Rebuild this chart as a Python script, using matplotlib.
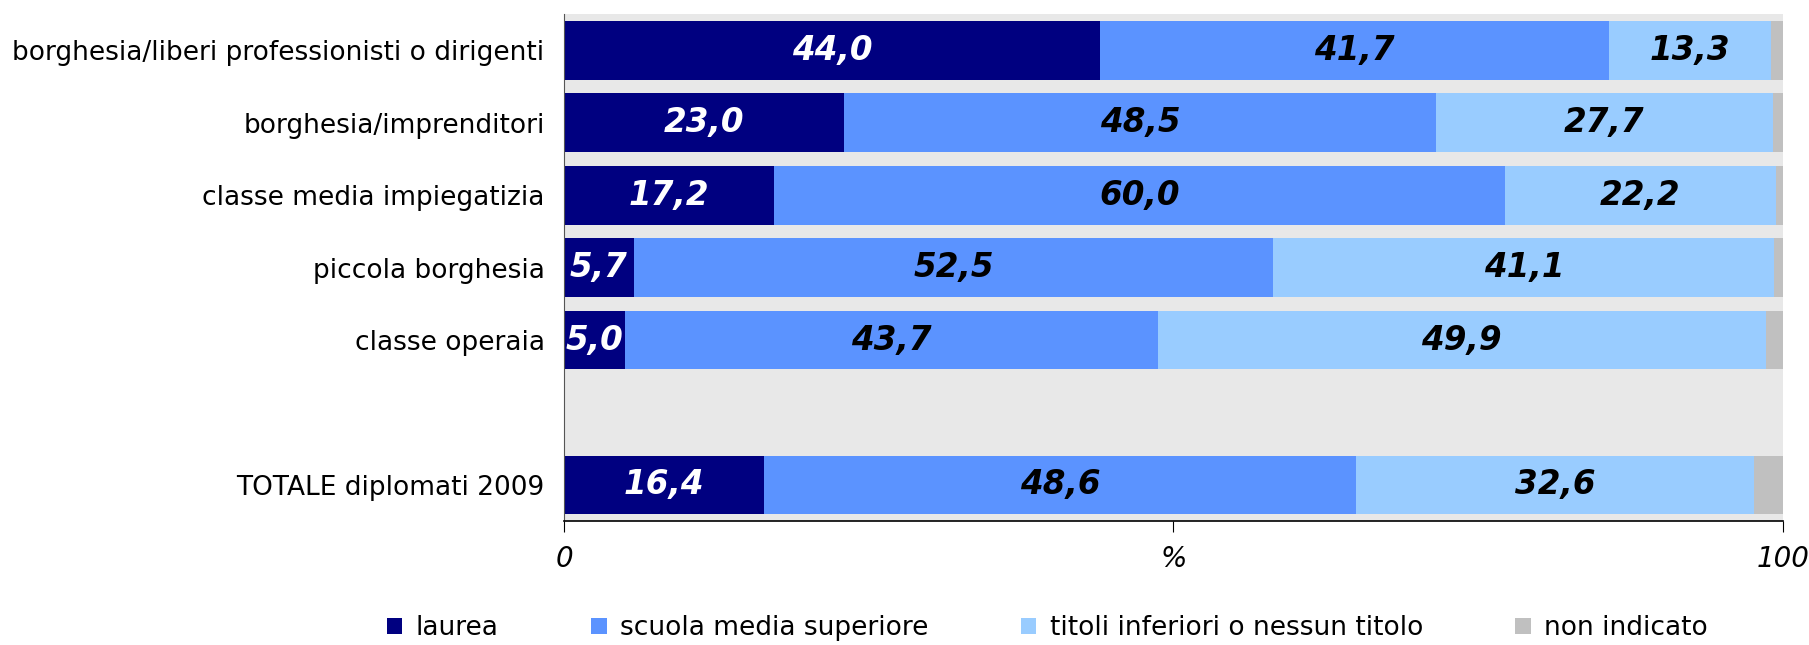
import matplotlib.pyplot as plt
import numpy as np

categories = ["borghesia/liberi professionisti o dirigenti", "borghesia/imprenditori",
              "classe media impiegatizia", "piccola borghesia", "classe operaia",
              "", "TOTALE diplomati 2009"]
laurea = [44.0, 23.0, 17.2, 5.7, 5.0, np.nan, 16.4]
superiore = [41.7, 48.5, 60.0, 52.5, 43.7, np.nan, 48.6]
inferiori = [13.3, 27.7, 22.2, 41.1, 49.9, np.nan, 32.6]
non_ind = [1.0, 0.8, 0.6, 0.7, 1.4, np.nan, 2.4]
series_names = ["laurea", "scuola media superiore", "titoli inferiori o nessun titolo", "non indicato"]
colors = ["#000080", "#5B93FF", "#99CCFF", "#C0C0C0"]
label_colors = ["white", "black", "black", None]

fig = plt.figure(figsize=(18.09, 6.45), dpi=100)
ax = fig.add_axes([0.3118, 0.192, 0.9856 - 0.3118, 0.978 - 0.192])
ax.set_facecolor("#E8E8E8")

y = np.arange(len(categories))
left = np.zeros(len(categories))
for vals, name, col, lc in zip([laurea, superiore, inferiori, non_ind], series_names, colors, label_colors):
    vals = np.array(vals)
    ax.barh(y, np.nan_to_num(vals), left=left, height=0.81, color=col, label=name)
    if lc:
        for yi, (l, v) in enumerate(zip(left, vals)):
            if not np.isnan(v):
                ax.text(l + v / 2, yi, f"{v:.1f}".replace(".", ","), ha="center", va="center",
                        color=lc, fontsize=23.5, fontweight="bold", fontstyle="italic")
    left = left + np.nan_to_num(vals)

ax.set_xlim(0, 100)
ax.set_ylim(6.5, -0.5)
ax.set_yticks(y)
ax.set_yticklabels(categories, fontsize=19)
ax.tick_params(axis="y", length=0, pad=14)
ax.set_xticks([0, 50, 100])
ax.set_xticklabels(["0", "%", "100"], fontsize=20, fontstyle="italic")
ax.tick_params(axis="x", length=8, direction="out", pad=9)
ax.spines["top"].set_visible(False)
ax.spines["right"].set_visible(False)
ax.spines["left"].set_color("#555555")
ax.spines["bottom"].set_color("black")
ax.spines["bottom"].set_linewidth(1.2)

fig.legend(loc="center", bbox_to_anchor=(0.579, 0.026), ncol=4, frameon=False,
           fontsize=19, handlelength=0.6, handleheight=0.6, handletextpad=0.5,
           columnspacing=3.5)

fig.savefig("out.png", dpi=100)
